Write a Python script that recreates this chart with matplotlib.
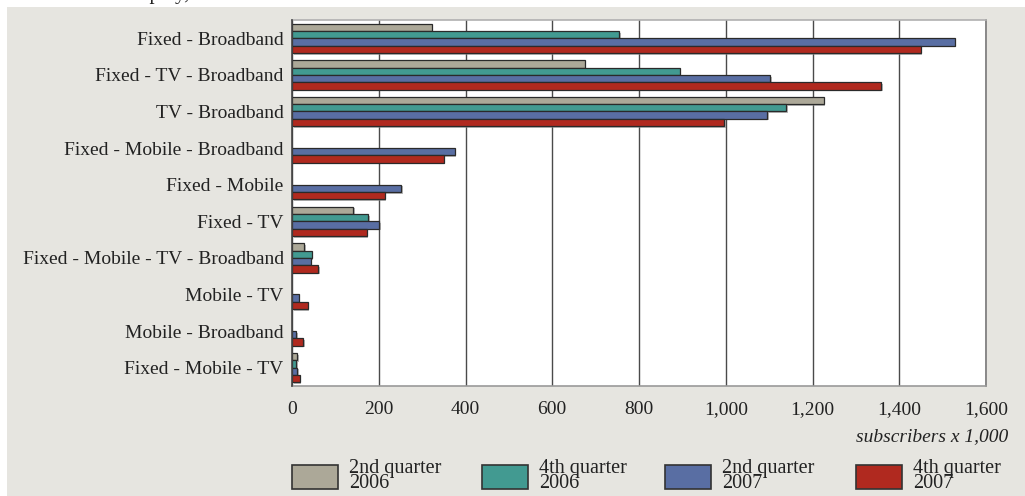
import matplotlib
matplotlib.use("Agg")
import matplotlib.pyplot as plt
import matplotlib.patheffects as pe
from matplotlib.patches import Rectangle
import numpy as np

categories = [
    "Fixed - Broadband",
    "Fixed - TV - Broadband",
    "TV - Broadband",
    "Fixed - Mobile - Broadband",
    "Fixed - Mobile",
    "Fixed - TV",
    "Fixed - Mobile - TV - Broadband",
    "Mobile - TV",
    "Mobile - Broadband",
    "Fixed - Mobile - TV",
]
q2_2006 = [322, 675, 1226, 0, 0, 141, 28, 0, 0, 12]
q4_2006 = [754, 894, 1139, 0, 0, 175, 45, 0, 0, 10]
q2_2007 = [1528, 1102, 1095, 375, 251, 201, 43, 15, 10, 12]
q4_2007 = [1449, 1358, 997, 350, 214, 172, 61, 36, 25, 18]

series = [q2_2006, q4_2006, q2_2007, q4_2007]
series_labels = ["2nd quarter\n2006", "4th quarter\n2006", "2nd quarter\n2007", "4th quarter\n2007"]
colors = ["#aca898", "#429a91", "#596ea3", "#b0291f"]
xticks = [0, 200, 400, 600, 800, 1000, 1200, 1400, 1600]

FONT = "Liberation Serif"
plt.rcParams["font.family"] = FONT
TXT = "#222222"

W, H = 1025, 496
fig = plt.figure(figsize=(W / 100, H / 100), dpi=100, facecolor="white")

# grey panel behind everything
fig.patches.append(Rectangle((7 / W, 0), 1 - 7 / W, (H - 7) / H,
                             transform=fig.transFigure, facecolor="#e6e5e0",
                             edgecolor="none", zorder=-10))

# heading sits mostly above the top edge of the canvas
fig.text(285 / W, 1 + 1 / H, "Breakdown of multiplay, 2006-2007", ha="right",
         va="baseline", fontsize=15, color=TXT)

ax = fig.add_axes([292 / W, (H - 386) / H, (986 - 292) / W, (386 - 20) / H])
ax.set_facecolor("white")

y = np.arange(len(categories))
bh = 0.2
offsets = [-0.3, -0.1, 0.1, 0.3]
shadow = [pe.SimplePatchShadow(offset=(1.2, -1.2), shadow_rgbFace="#888888", alpha=0.6), pe.Normal()]
for vals, off, col in zip(series, offsets, colors):
    vals = np.array(vals, dtype=float)
    bars = ax.barh(y + off, vals, height=bh, color=col, edgecolor="#2a2a2a",
                   linewidth=0.9, zorder=3)
    for b, v in zip(bars, vals):
        if v == 0:
            b.set_visible(False)
        else:
            b.set_path_effects(shadow)

ax.set_ylim(len(categories) - 0.5, -0.5)
ax.set_xlim(0, 1600)
ax.set_xticks(xticks)
ax.set_xticklabels([f"{t:,}" for t in xticks], fontsize=14, color=TXT)
ax.set_yticks(y)
ax.set_yticklabels(categories, fontsize=14, color=TXT)
ax.tick_params(axis="both", length=0, pad=6)
ax.tick_params(axis="x", pad=11)
ax.grid(axis="x", color="#4a4a4a", linewidth=1, zorder=1)
ax.set_axisbelow(True)
ax.spines["top"].set_color("#b0b0b0")
ax.spines["bottom"].set_color("#9a9a9a")
ax.spines["right"].set_color("#7a7a7a")
for s in ["top", "right", "bottom"]:
    ax.spines[s].set_linewidth(1.2)
ax.spines["left"].set_color("#444444")
ax.spines["left"].set_linewidth(1.2)
ax.spines["left"].set_zorder(4)

fig.text(1008 / W, 1 - 437 / H, "subscribers x 1,000", ha="right", va="center",
         fontsize=14, style="italic", color=TXT)

# legend row
patch_x = [292, 482, 665, 856]
for px, lab, col in zip(patch_x, series_labels, colors):
    fig.patches.append(Rectangle((px / W, 1 - 489 / H), 46 / W, 24 / H,
                                 transform=fig.transFigure, facecolor=col,
                                 edgecolor="#333333", linewidth=1.2, zorder=2))
    fig.text((px + 57) / W, 1 - 476 / H, lab, ha="left", va="center",
             fontsize=14.5, linespacing=0.78, color=TXT)

fig.savefig("out.png", dpi=100, facecolor=fig.get_facecolor())
